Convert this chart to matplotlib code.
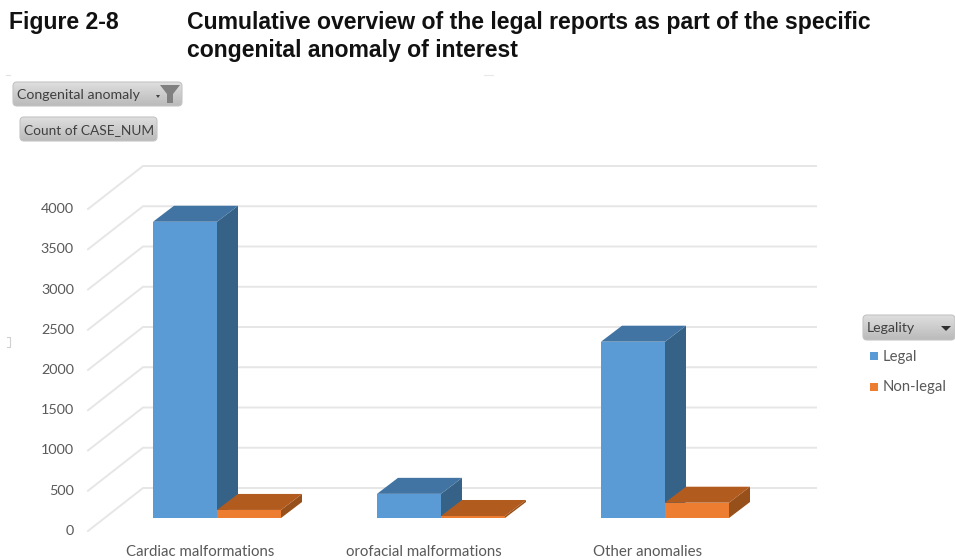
import matplotlib
matplotlib.use("Agg")
import matplotlib.pyplot as plt
import numpy as np
from matplotlib.patches import FancyBboxPatch, Polygon, Rectangle

categories = ["Cardiac malformations", "orofacial malformations", "Other anomalies"]
legal = [3680, 300, 2190]
non_legal = [100, 25, 190]
y_ticks = [0, 500, 1000, 1500, 2000, 2500, 3000, 3500, 4000]
series_names = ["Legal", "Non-legal"]

W, H = 955, 560
PX_X = 224.0     # pixels per category
PX_Y = 0.0805    # pixels per count
X0, Y0 = 217, 518  # pixel position of category 0, count 0 (front of the bars)
BAR_W = 64 / PX_X

# 3d look: how far the depth goes, in data units
DEPTH_X = 21 / PX_X
DEPTH_Y = 16 / PX_Y

FRONT = ["#5b9bd5", "#ed7d31"]
TOP = ["#4174a2", "#b25b1f"]
SIDE = ["#366287", "#98501b"]
GRID = "#e6e6e6"
TEXT = "#595959"

plt.rcParams['font.family'] = ['Lato', 'DejaVu Sans']

fig = plt.figure(figsize=(W / 100, H / 100), dpi=100)
ax = fig.add_axes([0, 0, 1, 1])
ax.set_xlim((0 - X0) / PX_X, (W - X0) / PX_X)
ax.set_ylim((Y0 - H) / PX_Y, Y0 / PX_Y)
ax.axis("off")

# second axes on top, in plain pixels, for the title and the pivot buttons
ov = fig.add_axes([0, 0, 1, 1], zorder=5)
ov.set_xlim(0, W)
ov.set_ylim(H, 0)
ov.axis("off")


def to_data(px, py):
    return (px - X0) / PX_X, (Y0 - py) / PX_Y


title_font = dict(family="Liberation Sans", weight="bold", fontsize=16.6, color="#111111", va="center")
ov.text(9, 23, "Figure 2-8", **title_font)
ov.text(187, 23, "Cumulative overview of the legal reports as part of the specific", **title_font)
ov.text(187, 50, "congenital anomaly of interest", **title_font)

# gridlines: oblique part on the floor side, then flat along the back wall
for v in y_ticks:
    off = v * PX_Y
    x1, y1 = to_data(88, 531 - off)
    x2, y2 = to_data(143, 488 - off)
    x3, y3 = to_data(816, 488 - off)
    ax.plot([x1, x2, x3], [y1, y2, y3], color=GRID, lw=1.4, zorder=1, solid_joinstyle="miter")
    ax.text(*to_data(74, 531 - off), str(v), ha="right", va="center", fontsize=10.4, color=TEXT)


def draw_bar(x_left, value, s):
    x_right = x_left + BAR_W
    ax.add_patch(Polygon([(x_right, 0), (x_right + DEPTH_X, DEPTH_Y), (x_right + DEPTH_X, value + DEPTH_Y), (x_right, value)],
                         facecolor=SIDE[s], edgecolor="none", zorder=3))
    ax.add_patch(Polygon([(x_left, value), (x_left + DEPTH_X, value + DEPTH_Y), (x_right + DEPTH_X, value + DEPTH_Y), (x_right, value)],
                         facecolor=TOP[s], edgecolor="none", zorder=3))
    ax.bar(x_left, value, width=BAR_W, align="edge", color=FRONT[s], zorder=3)


for i in range(len(categories)):
    draw_bar(i - BAR_W, legal[i], 0)
    draw_bar(i, non_legal[i], 1)

for i, name in enumerate(categories):
    ax.text(i - 17 / PX_X, to_data(0, 552)[1], name, ha="center", va="center", fontsize=10.8, color=TEXT)

gradient = np.linspace(0.87, 0.73, 32).reshape(-1, 1)


def field_button(px, py, w, h, label, size):
    box = FancyBboxPatch((px, py), w, h, boxstyle="round,pad=0,rounding_size=4",
                         facecolor="none", edgecolor="#c4c4c4", lw=0.8, zorder=3)
    ov.add_patch(box)
    img = ov.imshow(gradient, cmap="gray", vmin=0, vmax=1, aspect="auto",
                    extent=(px, px + w, py + h, py), zorder=2)
    img.set_clip_path(box)
    ov.text(px + 4, py + h / 2 + 1, label, fontsize=size, color="#404040", va="center", zorder=4)


field_button(13, 82, 169, 24, "Congenital anomaly", 10.2)
field_button(20, 117, 137, 24, "Count of CASE_NUM", 9.9)
field_button(863, 315, 92, 25, "Legality", 10.2)
ov.set_xlim(0, W)
ov.set_ylim(H, 0)

# dropdown arrows and the filter funnel
ov.add_patch(Polygon([(156, 95), (160, 95), (158, 98)], facecolor="#404040", edgecolor="none", zorder=5))
ov.add_patch(Polygon([(160, 85), (180, 85), (173, 94), (173, 103), (167, 103), (167, 94)],
                     facecolor="#808080", edgecolor="none", zorder=5))
ov.add_patch(Polygon([(941, 326), (951, 326), (946, 331)], facecolor="#303030", edgecolor="none", zorder=5))

# legend
for k, name in enumerate(series_names):
    py = 356 + k * 30.5
    ov.add_patch(Rectangle((870, py - 4), 8, 8, facecolor=FRONT[k], edgecolor="none"))
    ov.text(883, py + 1, name, fontsize=10.7, color=TEXT, va="center")

# faint scan leftovers around the pasted chart
ov.plot([7, 10, 10, 7], [337, 337, 347, 347], color="#d0d0d0", lw=0.8)
ov.plot([6, 10], [75, 75], color="#e0e0e0", lw=0.8)
ov.plot([484, 493], [75, 75], color="#e8e8e8", lw=0.8)

fig.savefig("out.png", dpi=100, facecolor="white")
